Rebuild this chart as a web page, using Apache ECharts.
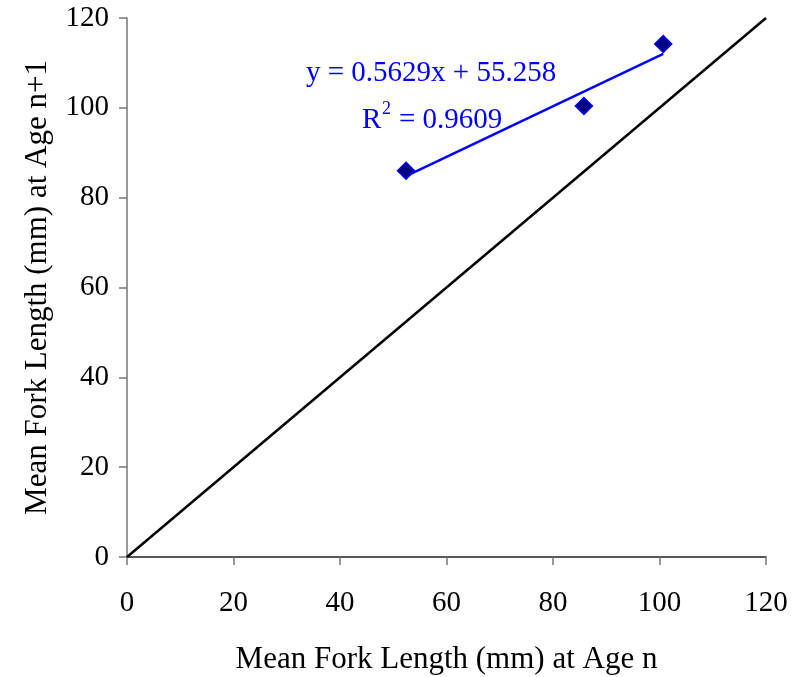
<!DOCTYPE html>
<html>
<head>
<meta charset="utf-8">
<script src="https://cdn.jsdelivr.net/npm/echarts@6/dist/echarts.min.js"></script>
<style>
  html, body { margin: 0; padding: 0; background: #fff; }
  #chart { width: 793px; height: 677px; }
</style>
</head>
<body>
<div id="chart"></div>
<script>
// observed points: mean fork length at age n vs age n+1
const ageN = [52.4, 85.8, 100.7];
const ageN1 = [86.0, 100.4, 114.2];
// linear trend line, end points
const trendX = [52.4, 100.7];
const trendY = [84.8, 112.0];
// 1:1 reference line
const refX = [0, 120];
const refY = [0, 120];

const font = 'Liberation Serif, Times New Roman, serif';

const chart = echarts.init(document.getElementById('chart'));
chart.setOption({
  animation: false,
  grid: { left: 127, right: 27, top: 18, bottom: 120, outerBoundsMode: 'none' },
  xAxis: {
    type: 'value', min: 0, max: 120, interval: 20,
    name: 'Mean Fork Length (mm) at Age n',
    nameLocation: 'middle', nameGap: 87,
    nameTextStyle: { fontFamily: font, fontSize: 31, color: '#000' },
    axisLine: { lineStyle: { color: '#222', width: 1.5 } },
    axisTick: { show: true, length: 8, lineStyle: { color: '#777', width: 1.5 } },
    axisLabel: { margin: 32, fontFamily: font, fontSize: 29, color: '#000' },
    splitLine: { show: false }
  },
  yAxis: {
    type: 'value', min: 0, max: 120, interval: 20,
    name: 'Mean Fork Length (mm) at Age n+1',
    nameLocation: 'middle', nameGap: 74,
    nameTextStyle: { fontFamily: font, fontSize: 31, color: '#000' },
    axisLine: { show: true, lineStyle: { color: '#777', width: 1.5 } },
    axisTick: { show: true, length: 8, lineStyle: { color: '#777', width: 1.5 } },
    axisLabel: { margin: 18, fontFamily: font, fontSize: 29, color: '#000' },
    splitLine: { show: false }
  },
  series: [
    {
      type: 'line',
      data: refX.map((x, i) => [x, refY[i]]),
      symbol: 'none',
      lineStyle: { color: '#000', width: 2.5 },
      z: 1
    },
    {
      type: 'line',
      data: trendX.map((x, i) => [x, trendY[i]]),
      symbol: 'none',
      lineStyle: { color: '#0000ff', width: 2.5 },
      z: 2
    },
    {
      type: 'scatter',
      data: ageN.map((x, i) => [x, ageN1[i]]),
      symbol: 'diamond',
      symbolSize: [17, 17],
      itemStyle: { color: '#000080', borderColor: '#0000ff', borderWidth: 1.5, opacity: 1 },
      z: 3
    }
  ],
  graphic: [
    {
      type: 'text', left: 306, top: 59,
      style: { text: 'y = 0.5629x + 55.258', font: '29px ' + font, fill: '#0000ff' }
    },
    {
      type: 'text', left: 362, top: 106,
      style: { text: 'R', font: '29px ' + font, fill: '#0000ff' }
    },
    {
      type: 'text', left: 382, top: 100,
      style: { text: '2', font: '18px ' + font, fill: '#0000ff' }
    },
    {
      type: 'text', left: 399, top: 106,
      style: { text: '= 0.9609', font: '29px ' + font, fill: '#0000ff' }
    }
  ]
});
</script>
</body>
</html>
